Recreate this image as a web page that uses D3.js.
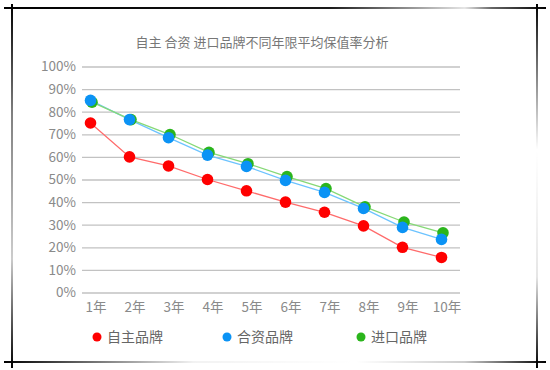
<!DOCTYPE html>
<html>
<head>
<meta charset="utf-8">
<script src="https://cdn.jsdelivr.net/npm/d3@7"></script>
<style>
  body { margin: 0; background: #fff; }
  svg { display: block; font-family: "Noto Sans CJK SC", "Noto Sans", sans-serif; }
</style>
</head>
<body>
<svg id="chart" width="550" height="370"></svg>
<script>
// data
const years = ["1年", "2年", "3年", "4年", "5年", "6年", "7年", "8年", "9年", "10年"]
const ziZhu = [75, 60, 56, 50, 45, 40, 35.5, 29.5, 20, 15.5]
const heZi = [85, 76.5, 68.5, 60.8, 55.8, 49.6, 44.3, 37.2, 28.8, 23.5]
const jinKou = [84.2, 76.5, 69.9, 62, 57, 51.3, 46, 37.9, 31.2, 26.4]
const yTicks = [0, 10, 20, 30, 40, 50, 60, 70, 80, 90, 100]
const seriesNames = ["自主品牌", "合资品牌", "进口品牌"]

const title = "自主 合资 进口品牌不同年限平均保值率分析"

const series = [
  { name: seriesNames[0], values: ziZhu, dot: "#ff0000", line: "#ff6b6b", dx: 0 },
  { name: seriesNames[1], values: heZi, dot: "#0b93f5", line: "#6cc3ff", dx: 0 },
  { name: seriesNames[2], values: jinKou, dot: "#2bb51c", line: "#86d977", dx: 1.5 }
]

const svg = d3.select("#chart")

// sketchy frame
const defs = svg.append("defs")
function grad(id, x1, y1, x2, y2, stops) {
  const g = defs.append("linearGradient").attr("id", id)
    .attr("x1", x1).attr("y1", y1).attr("x2", x2).attr("y2", y2)
  stops.forEach(s => g.append("stop").attr("offset", s[0]).attr("stop-color", "#000").attr("stop-opacity", s[1]))
}
grad("gTop", 0, 0, 1, 0, [[0, 1], [0.6, 0.9], [0.85, 0.1], [0.9, 0.6], [1, 1]])
grad("gBot", 0, 0, 1, 0, [[0, 1], [0.35, 0.05], [0.65, 0.0], [0.85, 0.2], [1, 1]])
grad("gLeft", 0, 0, 0, 1, [[0, 1], [0.3, 0.5], [0.7, 0.2], [1, 1]])
grad("gRight", 0, 0, 0, 1, [[0, 1], [0.15, 0.6], [0.4, 0.0], [0.75, 0.1], [1, 1]])

svg.append("rect").attr("x", 4).attr("y", 7).attr("width", 542).attr("height", 2).attr("fill", "url(#gTop)")
svg.append("rect").attr("x", 4).attr("y", 361).attr("width", 542).attr("height", 2).attr("fill", "url(#gBot)")
svg.append("rect").attr("x", 11).attr("y", 4).attr("width", 2).attr("height", 364).attr("fill", "url(#gLeft)")
svg.append("rect").attr("x", 536).attr("y", 4).attr("width", 2).attr("height", 364).attr("fill", "url(#gRight)")

const x = d3.scalePoint().domain(years).range([90.5, 441.5])
const y = d3.scaleLinear().domain([0, 100]).range([292.5, 66.5])

svg.append("text")
  .attr("x", 262).attr("y", 47)
  .attr("text-anchor", "middle")
  .attr("font-size", 13)
  .attr("fill", "#777")
  .text(title)

// gridlines
const yAxis = d3.axisLeft(y).tickValues(yTicks).tickFormat(d => d + "%")
  .tickSize(-(460 - 82)).tickPadding(6)
const gy = svg.append("g").attr("transform", "translate(82,0)").call(yAxis)
gy.select(".domain").remove()
gy.selectAll("line").attr("stroke", "#c2c2c2").attr("stroke-width", 1.3)
gy.selectAll("text").attr("font-size", 13.5).attr("fill", "#8a8a8a")
  .attr("font-family", "\"Noto Sans CJK SC\", sans-serif")

const xAxis = d3.axisBottom(x).tickSize(0).tickPadding(10)
const gx = svg.append("g").attr("transform", "translate(5,292.5)").call(xAxis)
gx.select(".domain").remove()
gx.selectAll("text").attr("font-size", 13.5).attr("fill", "#8a8a8a")
  .attr("font-family", "\"Noto Sans CJK SC\", sans-serif")

const line = d3.line()

series.forEach(s => {
  const pts = s.values.map((v, i) => [x(years[i]) + s.dx, y(v)])
  svg.append("path")
    .attr("d", line(pts))
    .attr("fill", "none")
    .attr("stroke", s.line)
    .attr("stroke-width", 1.3)
})
// dots drawn after all lines, red last so it sits on top like the picture
;[series[2], series[1], series[0]].forEach(s => {
  svg.append("g").selectAll("circle")
    .data(s.values)
    .enter()
    .append("circle")
    .attr("cx", (d, i) => x(years[i]) + s.dx)
    .attr("cy", d => y(d))
    .attr("r", 5.8)
    .attr("fill", s.dot)
})

// legend
const legendX = [97, 227, 361]
const leg = svg.append("g")
series.forEach((s, i) => {
  leg.append("circle").attr("cx", legendX[i]).attr("cy", 337).attr("r", 4.5).attr("fill", s.dot)
  leg.append("text").attr("x", legendX[i] + 10).attr("y", 342)
    .attr("font-size", 14).attr("fill", "#666")
    .text(s.name)
})
</script>
</body>
</html>
